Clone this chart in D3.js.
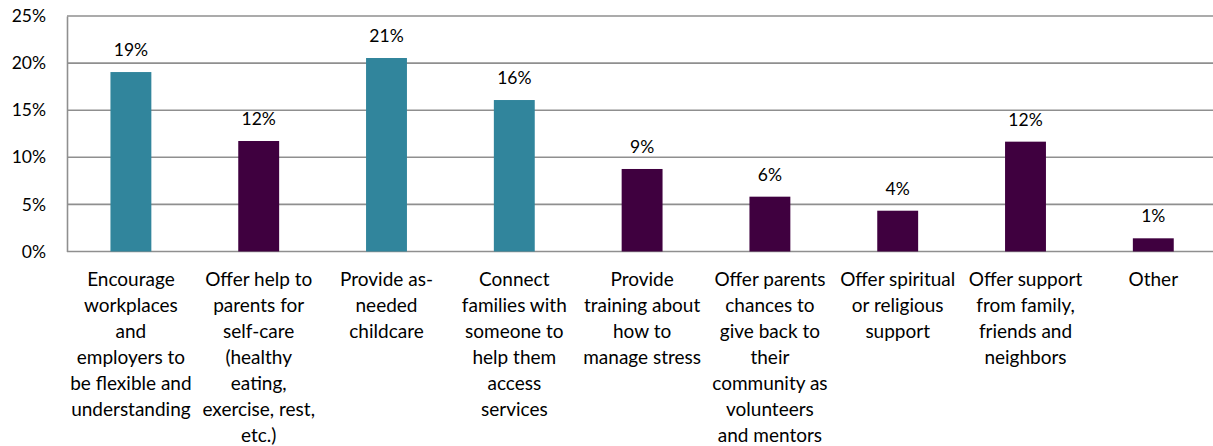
<!DOCTYPE html>
<html>
<head>
<meta charset="utf-8">
<script src="https://cdn.jsdelivr.net/npm/d3@7"></script>
<style>
  html, body { margin: 0; padding: 0; background: #fff; }
  svg { display: block; }
  text { font-family: Lato, "Liberation Sans", sans-serif; fill: #000; }
</style>
</head>
<body>
<svg id="chart" width="1213" height="446"></svg>
<script>
// Survey responses: share of respondents choosing each kind of support.
const categories = [
  "Encourage\nworkplaces\nand\nemployers to\nbe flexible and\nunderstanding",
  "Offer help to\nparents for\nself-care\n(healthy\neating,\nexercise, rest,\netc.)",
  "Provide as-\nneeded\nchildcare",
  "Connect\nfamilies with\nsomeone to\nhelp them\naccess\nservices",
  "Provide\ntraining about\nhow to\nmanage stress",
  "Offer parents\nchances to\ngive back to\ntheir\ncommunity as\nvolunteers\nand mentors",
  "Offer spiritual\nor religious\nsupport",
  "Offer support\nfrom family,\nfriends and\nneighbors",
  "Other"
];
const values = [0.1905, 0.1173, 0.2054, 0.1608, 0.0876, 0.0582, 0.0433, 0.1166, 0.0140];
const groups = ["practical", "personal", "practical", "practical", "personal", "personal", "personal", "personal", "personal"];
const yTicks = [0, 0.05, 0.10, 0.15, 0.20, 0.25];

const svg = d3.select("#chart");
const plotLeft = 67, plotBottom = 251.5, plotTop = 16, step = 127.8;

const x = d3.scaleBand()
  .domain(categories)
  .range([plotLeft, plotLeft + step * categories.length])
  .paddingInner(0.68)
  .paddingOuter(0.34);

const y = d3.scaleLinear().domain([0, 0.25]).range([plotBottom, plotTop]);

const color = d3.scaleOrdinal()
  .domain(["practical", "personal"])
  .range(["#31859c", "#3f003f"]);

const pct = d3.format(".0%");

// Horizontal gridlines
svg.append("g")
  .selectAll("line")
  .data(yTicks)
  .join("line")
  .attr("x1", plotLeft)
  .attr("x2", 1213)
  .attr("y1", d => y(d))
  .attr("y2", d => y(d))
  .attr("stroke", "#8f8f8f")
  .attr("stroke-width", 1.6);

// Y axis: vertical line and percentage labels
const yAxis = svg.append("g")
  .attr("transform", `translate(${plotLeft},0)`)
  .call(d3.axisLeft(y).tickValues(yTicks).tickFormat(pct).tickSize(0).tickPadding(21));
yAxis.select(".domain").attr("stroke", "#8f8f8f").attr("stroke-width", 1.6);
yAxis.selectAll("text")
  .style("font-family", "Lato, 'Liberation Sans', sans-serif")
  .style("font-size", "17.5px")
  .attr("fill", "#000");

// Bars
svg.append("g")
  .selectAll("rect")
  .data(values)
  .join("rect")
  .attr("x", (d, i) => x(categories[i]))
  .attr("width", x.bandwidth())
  .attr("y", d => y(d))
  .attr("height", d => plotBottom - y(d))
  .attr("fill", (d, i) => color(groups[i]));

// Value labels above bars
svg.append("g")
  .selectAll("text")
  .data(values)
  .join("text")
  .attr("x", (d, i) => x(categories[i]) + x.bandwidth() / 2)
  .attr("y", d => y(d) - 16)
  .attr("text-anchor", "middle")
  .style("font-size", "17.5px")
  .text(d => pct(d));

// Category labels, one tspan per line
const cat = svg.append("g")
  .selectAll("text")
  .data(categories)
  .join("text")
  .attr("text-anchor", "middle")
  .style("font-size", "19px")
  .attr("transform", d => `translate(${x(d) + x.bandwidth() / 2},286)`);
cat.selectAll("tspan")
  .data(d => d.split("\n"))
  .join("tspan")
  .attr("x", 0)
  .attr("y", (d, i) => i * 26)
  .text(d => d);
</script>
</body>
</html>
